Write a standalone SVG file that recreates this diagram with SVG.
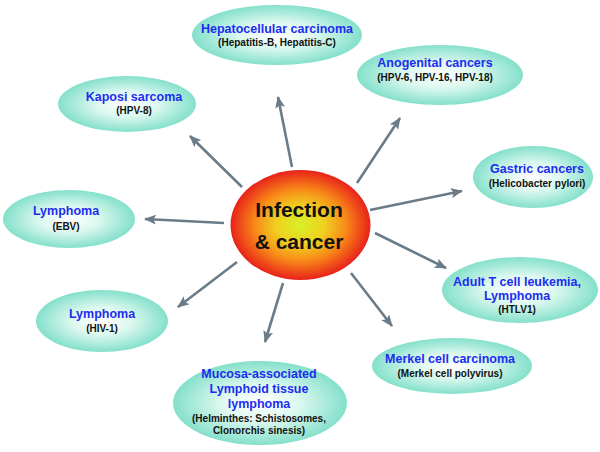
<svg xmlns="http://www.w3.org/2000/svg" width="600" height="452" viewBox="0 0 600 452">
<defs>
<radialGradient id="g" cx="50%" cy="50%" r="50%">
<stop offset="0" stop-color="#ffffff"/>
<stop offset="0.45" stop-color="#dcf8ef"/>
<stop offset="1" stop-color="#84e0cb"/>
</radialGradient>
<radialGradient id="c" cx="50%" cy="50%" r="50%">
<stop offset="0" stop-color="#d6f227"/>
<stop offset="0.35" stop-color="#f0d020"/>
<stop offset="0.65" stop-color="#f88a18"/>
<stop offset="1" stop-color="#e8221a"/>
</radialGradient>
<marker id="a" viewBox="0 0 12 10" refX="11" refY="5" markerWidth="12" markerHeight="10" markerUnits="userSpaceOnUse" orient="auto">
<path d="M0,0 L12,5 L0,10 L2.5,5 z" fill="#6b7c88"/>
</marker>
<style>
.n{fill:url(#g)}
.t{font-family:"Liberation Sans",Arial,sans-serif;font-weight:bold;font-size:12.5px;fill:#1c2df0;text-anchor:middle}
.s{font-family:"Liberation Sans",Arial,sans-serif;font-weight:bold;font-size:10px;fill:#111;text-anchor:middle}
.m{font-family:"Liberation Sans",Arial,sans-serif;font-weight:bold;font-size:21px;fill:#111;text-anchor:middle}
.e line{stroke:#6b7c88;stroke-width:2.6;marker-end:url(#a)}
</style>
</defs>
<rect width="600" height="452" fill="#ffffff"/>
<g class="e" id="connectors">
<line x1="292" y1="167" x2="278" y2="97"/>
<line x1="357" y1="183" x2="400" y2="118"/>
<line x1="242" y1="187" x2="190" y2="136"/>
<line x1="370" y1="210" x2="462" y2="191"/>
<line x1="224" y1="223" x2="145" y2="219"/>
<line x1="375" y1="233" x2="446" y2="268"/>
<line x1="237" y1="262" x2="178" y2="307"/>
<line x1="283" y1="283" x2="265" y2="342"/>
<line x1="351" y1="273" x2="392" y2="326"/>
</g>
<g id="center">
<ellipse cx="300.5" cy="225" rx="70" ry="55" fill="url(#c)"/>
<text class="m" x="299" y="217">Infection</text>
<text class="m" x="299" y="249">&amp; cancer</text>
</g>
<g id="hepatocellular">
<ellipse class="n" cx="277" cy="35" rx="85" ry="30"/>
<text class="t" x="277" y="33">Hepatocellular carcinoma</text>
<text class="s" x="277" y="46">(Hepatitis-B, Hepatitis-C)</text>
</g>
<g id="anogenital">
<ellipse class="n" cx="440" cy="75" rx="83" ry="30"/>
<text class="t" x="435" y="67">Anogenital cancers</text>
<text class="s" x="435" y="81">(HPV-6, HPV-16, HPV-18)</text>
</g>
<g id="kaposi">
<ellipse class="n" cx="127" cy="104" rx="69" ry="28"/>
<text class="t" x="134" y="101">Kaposi sarcoma</text>
<text class="s" x="134" y="114">(HPV-8)</text>
</g>
<g id="lymphoma-ebv">
<ellipse class="n" cx="69" cy="219" rx="66" ry="29"/>
<text class="t" x="66" y="215">Lymphoma</text>
<text class="s" x="66" y="230">(EBV)</text>
</g>
<g id="gastric">
<ellipse class="n" cx="533" cy="177" rx="60" ry="31"/>
<text class="t" x="537" y="173">Gastric cancers</text>
<text class="s" x="537" y="187">(Helicobacter pylori)</text>
</g>
<g id="adult-t">
<ellipse class="n" cx="520" cy="290" rx="78" ry="33"/>
<text class="t" x="517" y="286">Adult T cell leukemia,</text>
<text class="t" x="517" y="300">Lymphoma</text>
<text class="s" x="517" y="313">(HTLV1)</text>
</g>
<g id="lymphoma-hiv">
<ellipse class="n" cx="102" cy="321" rx="66" ry="31"/>
<text class="t" x="102" y="318">Lymphoma</text>
<text class="s" x="102" y="332">(HIV-1)</text>
</g>
<g id="merkel">
<ellipse class="n" cx="452" cy="366" rx="80" ry="28"/>
<text class="t" x="450" y="363">Merkel cell carcinoma</text>
<text class="s" x="450" y="377">(Merkel cell polyvirus)</text>
</g>
<g id="mucosa">
<ellipse class="n" cx="260" cy="403" rx="87" ry="42"/>
<text class="t" x="259" y="378">Mucosa-associated</text>
<text class="t" x="259" y="393">Lymphoid tissue</text>
<text class="t" x="259" y="408">lymphoma</text>
<text class="s" x="259" y="422">(Helminthes: Schistosomes,</text>
<text class="s" x="259" y="434">Clonorchis sinesis)</text>
</g>
</svg>
